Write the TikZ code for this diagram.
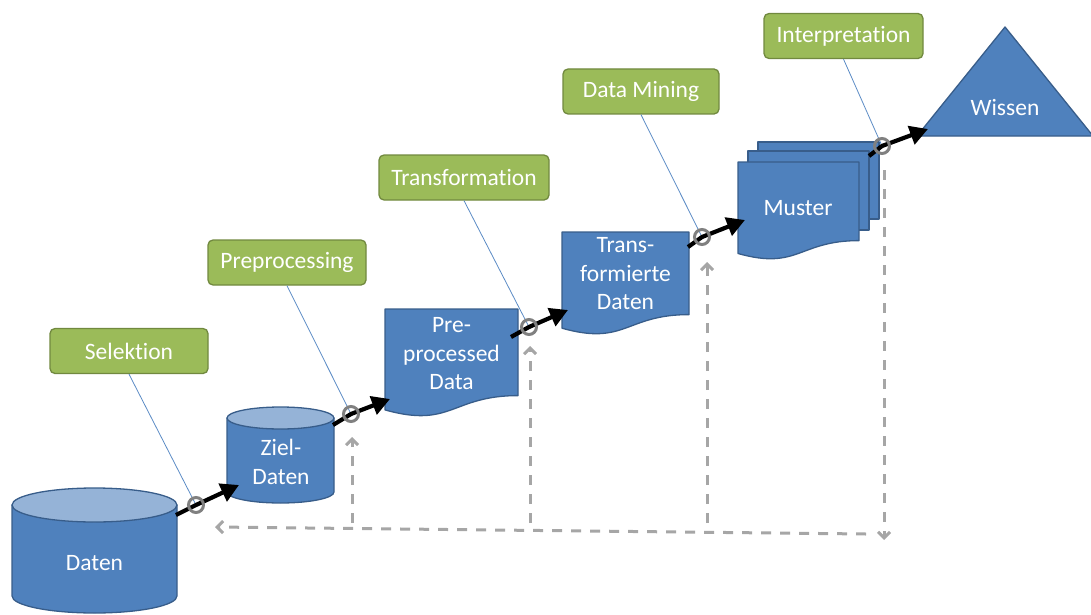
\documentclass[tikz,border=0pt]{standalone}
\usepackage{fontspec}
\setmainfont{Carlito}[Ligatures=NoCommon]
\usetikzlibrary{arrows.meta}
\definecolor{bFill}{HTML}{4F81BD}
\definecolor{bDraw}{HTML}{385D8A}
\definecolor{bTop}{HTML}{95B3D7}
\definecolor{gFill}{HTML}{9BBB59}
\definecolor{gDraw}{HTML}{71893F}
\definecolor{ringGray}{HTML}{808080}
\definecolor{dashGray}{HTML}{A6A6A6}
\definecolor{pinBlue}{HTML}{5B8BC5}
\tikzset{
  shp/.style={fill=bFill, draw=bDraw, line width=1.3pt, line join=round},
  toptone/.style={fill=bTop, draw=bDraw, line width=1.3pt},
  txt/.style={text=white, font=\fontsize{23.5}{28.5}\selectfont, align=center, inner sep=0pt},
  lbl/.style={rounded corners=5pt, fill=gFill, draw=gDraw, line width=1.3pt, text=white,
    font=\fontsize{23.5}{28.5}\selectfont, minimum height=45pt, inner sep=0pt},
  ring/.style={circle, draw=ringGray, line width=3pt, minimum size=15pt, inner sep=0pt},
  flow/.style={line width=4.2pt, -{Triangle[length=18pt,width=19pt]}},
  fb/.style={draw=dashGray, line width=3pt, dash pattern=on 10pt off 9pt,
    -{Straight Barb[length=6pt,width=12pt]}},
  pin/.style={draw=pinBlue, line width=0.8pt}
}
\begin{document}
\begin{tikzpicture}[x=1pt,y=-1pt]
\useasboundingbox (0,0) rectangle (1091,615);

% ---------- feedback dashed lines ----------
\coordinate (fbTop) at (884,170);
\coordinate (fbBot) at (884,540);
\coordinate (hR) at (866,534);
\coordinate (hL) at (215,527);
\coordinate (v1b) at (352,523);
\coordinate (v1t) at (352,437);
\coordinate (v2b) at (530,523);
\coordinate (v2t) at (530,346);
\coordinate (v3b) at (707,523);
\coordinate (v3t) at (707,262);
\draw[fb] (fbTop) -- (fbBot);
\draw[fb] (hR) -- (hL);
\draw[fb] (v1b) -- (v1t);
\draw[fb] (v2b) -- (v2t);
\draw[fb] (v3b) -- (v3t);

% ---------- Daten cylinder ----------
\path[shp] (12,505) -- (12,596)
  arc[start angle=180, end angle=360, x radius=82.5pt, y radius=17pt]
  -- (177,505) -- cycle;
\path[toptone] (94.5,505) ellipse[x radius=82.5pt, y radius=17pt];
\node[txt] (daten) at (94.5,563) {Daten};

% ---------- Ziel-Daten cylinder ----------
\path[shp] (227,418) -- (227,492)
  arc[start angle=180, end angle=360, x radius=53.5pt, y radius=11pt]
  -- (334,418) -- cycle;
\path[toptone] (280.5,418) ellipse[x radius=53.5pt, y radius=11pt];
\node[txt] (ziel) at (281,462) {Ziel-\\Daten};

% ---------- Pre-processed Data document ----------
\path[shp] (385,309) -- (518,309) -- (518,395.6)
  .. controls (451.5,395.6) and (451.5,428.6) .. (385,409.9) -- cycle;
\node[txt] (prep) at (451.5,354) {Pre-\\processed\\Data};

% ---------- Transformierte Daten document ----------
\path[shp] (562,232) -- (689,232) -- (689,314.6)
  .. controls (625.5,314.6) and (625.5,346.1) .. (562,328.2) -- cycle;
\node[txt] (trans) at (625.5,274) {Trans-\\formierte\\Daten};

% ---------- Muster multi-document ----------
\path[shp] (758,142) rectangle (879,219);
\path[shp] (748,151) rectangle (869,230);
\path[shp] (738,162) -- (859,162) -- (859,240.6)
  .. controls (798.5,240.6) and (798.5,270.5) .. (738,253.5) -- cycle;
\node[txt] (muster) at (798,208) {Muster};

% ---------- Wissen triangle ----------
\path[shp] (1005,27) -- (1093,136) -- (917,136) -- cycle;
\node[txt] (wissen) at (1005,108) {Wissen};

% ---------- step labels ----------
\node[lbl, minimum width=158pt] (sel) at (129,351) {Selektion};
\node[lbl, minimum width=158pt] (pre) at (287,262.5) {Preprocessing};
\node[lbl, minimum width=170pt] (tra) at (464,177.5) {Transformation};
\node[lbl, minimum width=156pt] (dm) at (641,91.5) {Data Mining};
\node[lbl, minimum width=159pt] (int) at (843.5,36) {Interpretation};

% ---------- junction rings ----------
\coordinate (r1) at (196,505);
\coordinate (r2) at (351,414);
\coordinate (r3) at (529,327);
\coordinate (r4) at (702,237);
\coordinate (r5) at (882,146);

% pins from labels
\draw[pin] (sel.south) -- (r1);
\draw[pin] (pre.south) -- (r2);
\draw[pin] (tra.south) -- (r3);
\draw[pin] (dm.south) -- (r4);
\draw[pin] (int.south) -- (r5);

% ---------- flow arrows ----------
\coordinate (s1) at (176,515);
\coordinate (t1) at (239,485);
\coordinate (s2) at (333,425);
\coordinate (t2) at (390,399);
\coordinate (s3) at (511,337);
\coordinate (t3) at (568,310);
\coordinate (s4) at (688,247);
\coordinate (t4) at (745,220);
\coordinate (s5) at (869,156);
\coordinate (t5) at (928,129);
\draw[flow] (s1) -- (r1) -- (t1);
\draw[flow] (s2) -- (r2) -- (t2);
\draw[flow] (s3) -- (r3) -- (t3);
\draw[flow] (s4) -- (r4) -- (t4);
\draw[flow] (s5) -- (r5) -- (t5);

\node[ring] (c1) at (r1) {};
\node[ring] (c2) at (r2) {};
\node[ring] (c3) at (r3) {};
\node[ring] (c4) at (r4) {};
\node[ring] (c5) at (r5) {};
\end{tikzpicture}
\end{document}
